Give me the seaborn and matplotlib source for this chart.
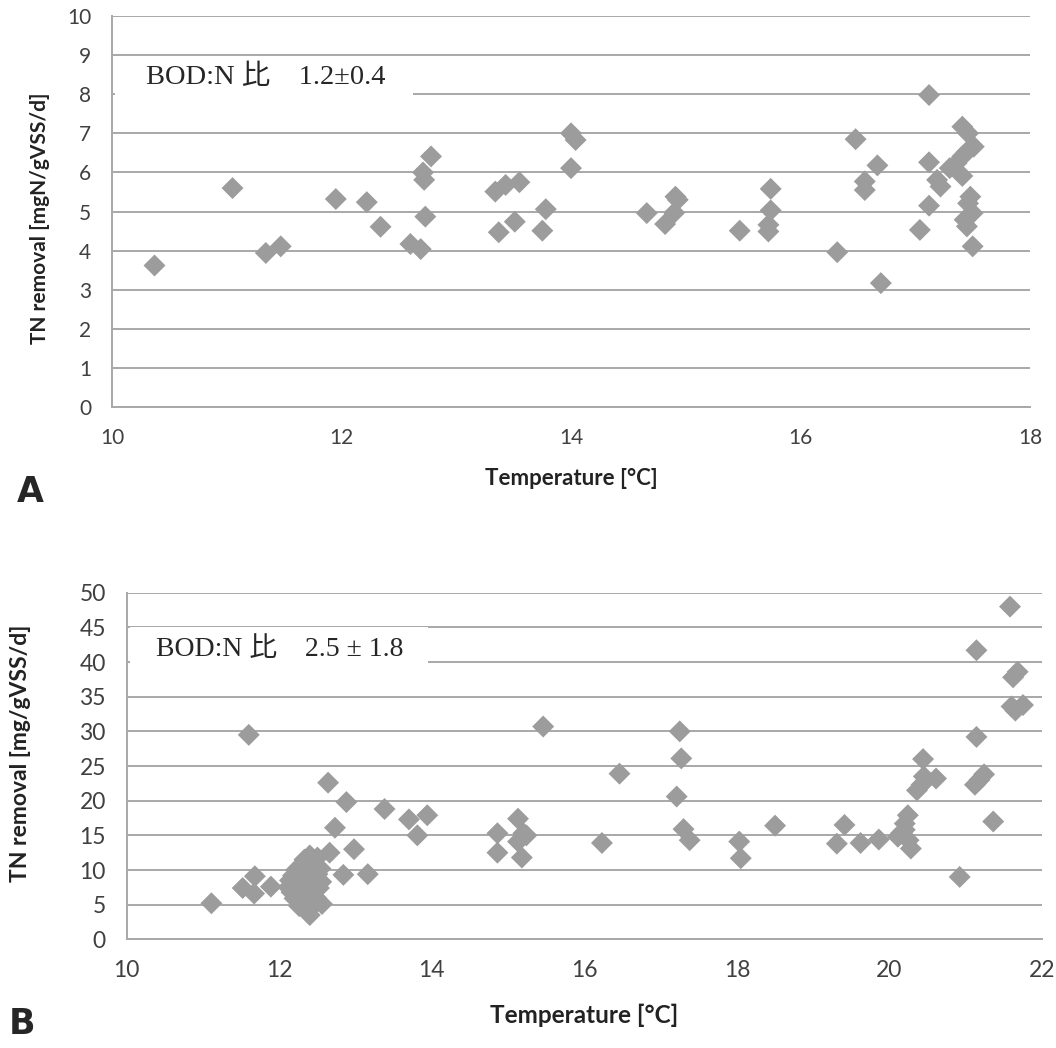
import matplotlib
matplotlib.use("Agg")
import matplotlib.pyplot as plt
import matplotlib.patches as mpatches
import seaborn as sns
import pandas as pd

# panel A data (temperature [°C], TN removal [mgN/gVSS/d])
temp_a = [10.37, 11.05, 11.34, 11.47, 11.95, 12.22, 12.34, 12.60, 12.69, 12.71,
          12.72, 12.73, 12.78, 13.34, 13.43, 13.37, 13.51, 13.55, 13.75, 13.78,
          14.00, 14.04, 14.00, 14.66, 14.82, 14.90, 14.93, 14.91, 15.47, 15.74,
          15.74, 15.72, 15.72, 16.32, 16.48, 16.56, 16.56, 16.67, 16.70, 17.04,
          17.12, 17.12, 17.12, 17.19, 17.22, 17.41, 17.46, 17.51, 17.45, 17.41,
          17.36, 17.30, 17.41, 17.48, 17.46, 17.50, 17.43, 17.45, 17.50]
tn_a = [3.62, 5.60, 3.94, 4.11, 5.32, 5.24, 4.61, 4.17, 4.04, 6.00,
        5.81, 4.87, 6.41, 5.51, 5.68, 4.47, 4.74, 5.75, 4.51, 5.06,
        7.00, 6.83, 6.11, 4.96, 4.68, 4.97, 5.30, 5.38, 4.51, 5.58,
        5.03, 4.66, 4.49, 3.96, 6.85, 5.77, 5.55, 6.18, 3.17, 4.53,
        7.98, 6.26, 5.15, 5.81, 5.64, 7.17, 7.00, 6.66, 6.53, 6.41,
        6.24, 6.11, 5.91, 5.38, 5.21, 4.96, 4.79, 4.62, 4.11]

# panel B data (temperature [°C], TN removal [mg/gVSS/d])
temp_b = [11.11, 11.60, 11.52, 11.68, 11.67, 11.89,
          12.12, 12.14, 12.16, 12.18, 12.20, 12.20, 12.22, 12.24, 12.25, 12.26,
          12.27, 12.28, 12.30, 12.30, 12.31, 12.32, 12.33, 12.34, 12.35, 12.35,
          12.37, 12.38, 12.38, 12.40, 12.40, 12.41, 12.42, 12.43, 12.44, 12.45,
          12.46, 12.47, 12.48, 12.50, 12.50, 12.52, 12.54, 12.55, 12.56,
          12.64, 12.88, 12.73, 12.66, 12.98, 12.84, 13.16, 13.38, 13.70, 13.81,
          13.94, 14.86, 14.86, 15.13, 15.13, 15.20, 15.18, 15.24, 15.46, 16.23,
          16.46, 17.25, 17.27, 17.21, 17.30, 17.38, 18.03, 18.05, 18.50, 19.31,
          19.41, 19.62, 19.86, 20.24, 20.20, 20.15, 20.11, 20.25, 20.28, 20.20,
          20.36, 20.42, 20.45, 20.44, 20.61, 20.92, 21.12, 21.18, 21.24, 21.14,
          21.14, 21.36, 21.58, 21.62, 21.68, 21.60, 21.65, 21.75]
tn_b = [5.2, 29.5, 7.4, 9.1, 6.6, 7.6,
        7.5, 8.5, 6.8, 9.2, 7.8, 5.9, 10.0, 8.6, 6.5, 4.8,
        9.5, 7.2, 10.8, 5.5, 8.1, 6.2, 11.5, 9.0, 4.3, 7.0,
        10.3, 5.6, 8.4, 12.1, 3.5, 6.6, 9.7, 11.0, 7.6, 4.9,
        10.5, 8.8, 6.0, 11.8, 9.4, 7.4, 10.2, 8.3, 5.1,
        22.6, 19.8, 16.1, 12.5, 13.0, 9.3, 9.4, 18.8, 17.3, 15.0,
        17.9, 15.3, 12.5, 17.4, 14.1, 15.3, 11.8, 15.0, 30.7, 13.9,
        23.9, 30.0, 26.1, 20.6, 15.9, 14.3, 14.1, 11.7, 16.4, 13.8,
        16.5, 13.9, 14.4, 17.9, 16.7, 15.3, 14.8, 14.3, 13.1, 15.8,
        21.5, 22.3, 23.5, 26.0, 23.2, 9.0, 22.3, 23.0, 23.8, 29.2,
        41.7, 17.0, 48.0, 37.8, 38.6, 33.6, 33.0, 33.8]

df_a = pd.DataFrame({"temp": temp_a, "tn": tn_a})
df_b = pd.DataFrame({"temp": temp_b, "tn": tn_b})

sns.set_style("white")
plt.rcParams["font.family"] = ["Lato", "DejaVu Sans"]

point_col = "#9c9c9c"
grid_col = "#a8a8a8"
label_col = "#404040"


def style_axes(ax, xticks, yticks, xlabel, ylabel, tick_fs, xlab_fs, ylab_fs,
               ylab_xy, xlab_y):
    ax.set_xticks(xticks)
    ax.set_yticks(yticks)
    ax.yaxis.grid(True, color=grid_col, lw=1.4)
    ax.xaxis.grid(False)
    ax.set_axisbelow(True)
    for s in ["top", "right"]:
        ax.spines[s].set_visible(False)
    for s in ["left", "bottom"]:
        ax.spines[s].set_color(grid_col)
        ax.spines[s].set_linewidth(1.4)
    ax.tick_params(direction="out", length=8, width=1.4, color=grid_col,
                   labelcolor=label_col, labelsize=tick_fs, pad=7)
    ax.set_xlabel(xlabel, fontsize=xlab_fs, fontweight="bold", color="#222222")
    ax.set_ylabel(ylabel, fontsize=ylab_fs, fontweight="bold", color="#222222")
    ax.yaxis.set_label_coords(*ylab_xy)
    ax.xaxis.set_label_coords(0.5, xlab_y)


fig = plt.figure(figsize=(10.56, 10.48), dpi=100)

# panel A
ax1 = fig.add_axes([0.1061, 0.6116, 0.8693, 0.3731])
sns.scatterplot(data=df_a, x="temp", y="tn", marker="D", s=125, color=point_col,
                edgecolor="none", ax=ax1, zorder=3)
ax1.set_xlim(10, 18)
ax1.set_ylim(0, 10)
style_axes(ax1, [10, 12, 14, 16, 18], range(0, 11),
           "Temperature [°C]", "TN removal [mgN/gVSS/d]",
           15, 16, 15, (-0.0675, 0.483), -0.156)
ax1.add_patch(mpatches.Rectangle((0.003, 0.795), 0.325, 0.10, transform=ax1.transAxes,
                                 facecolor="white", edgecolor="none", zorder=2))
ax1.text(0.037, 0.844, "BOD:N 比　1.2±0.4", transform=ax1.transAxes,
         fontsize=20.5, va="center", ha="left", zorder=4,
         family=["Liberation Serif", "Noto Sans CJK JP"])

# panel B
ax2 = fig.add_axes([0.12, 0.1037, 0.8668, 0.3307])
sns.scatterplot(data=df_b, x="temp", y="tn", marker="D", s=125, color=point_col,
                edgecolor="none", ax=ax2, zorder=3)
ax2.set_xlim(10, 22)
ax2.set_ylim(0, 50)
style_axes(ax2, range(10, 23, 2), range(0, 51, 5),
           "Temperature [°C]", "TN removal [mg/gVSS/d]",
           16.5, 17.5, 16.5, (-0.1046, 0.5375), -0.187)
ax2.add_patch(mpatches.Rectangle((0.0036, 0.797), 0.326, 0.104, transform=ax2.transAxes,
                                 facecolor="white", edgecolor="none", zorder=2))
ax2.text(0.0317, 0.8376, "BOD:N 比　2.5 ± 1.8", transform=ax2.transAxes,
         fontsize=20, va="center", ha="left", zorder=4,
         family=["Liberation Serif", "Noto Sans CJK JP"])

# panel letters
fig.text(30 / 1056, 1 - 492 / 1048, "A", fontsize=25, fontweight="bold",
         ha="center", va="center", family=["DejaVu Sans"])
fig.text(22 / 1056, 1 - 1024 / 1048, "B", fontsize=25, fontweight="bold",
         ha="center", va="center", family=["DejaVu Sans"])

fig.savefig("out.png", dpi=100, facecolor="white")
